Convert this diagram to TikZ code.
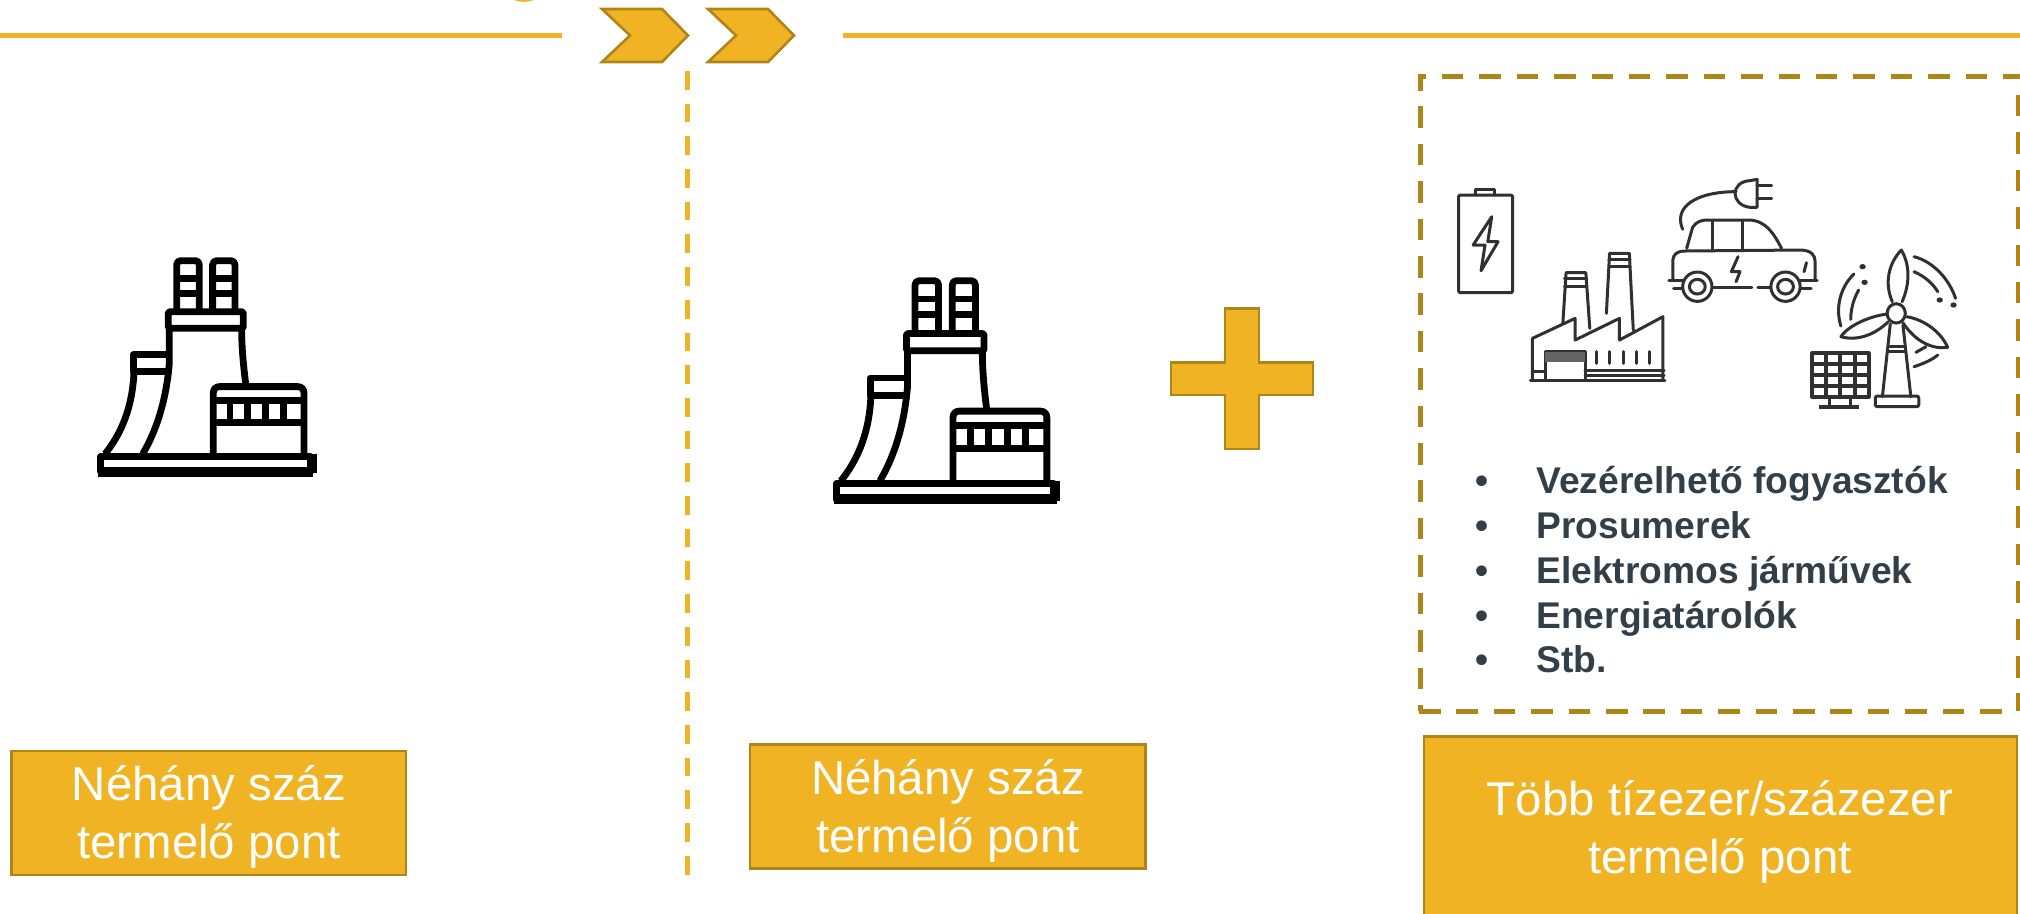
\documentclass[tikz,border=0pt]{standalone}
\usepackage{fontspec}
\setmainfont{Liberation Sans}
\definecolor{gold}{HTML}{F0B323}
\definecolor{darkgold}{HTML}{B08518}
\definecolor{slatetext}{HTML}{333F48}
\definecolor{iconink}{HTML}{303030}
\tikzset{
  rulegold/.style={draw=gold,line width=2.5pt},
  chev/.style={fill=gold,draw=darkgold,line width=1.3pt,miter limit=10},
  prodbox/.style={fill=gold,draw=darkgold,line width=1.2pt},
  prodtext/.style={text=white,font=\fontsize{23.7}{28.8}\selectfont,align=center,inner sep=0pt},
  listtext/.style={text=slatetext,font=\bfseries\fontsize{18.6}{22}\selectfont,anchor=base west,inner sep=0pt},
  listbullet/.style={text=slatetext,font=\bfseries\fontsize{18.6}{22}\selectfont,anchor=base,inner sep=0pt},
  dashh/.style={draw=darkgold,line width=2.5pt},
  plantline/.style={draw=black,line width=3.4pt,line join=round},
  iconline/.style={draw=iconink,line width=1.5pt,line cap=round,line join=round},
}
% power plant icon, drawn in a local 840x780 grid
\newcommand{\planticon}[3]{%
\begin{scope}[shift={(#1,#2)},x=#3*0.5pt,y=-#3*0.5pt]
  \draw[plantline,rounded corners=2pt] (350,240)--(350,92)--(418,92)--(418,240);
  \draw[plantline,rounded corners=2pt] (458,240)--(458,92)--(525,92)--(525,240);
  \draw[plantline] (350,145)--(418,145) (350,190)--(418,190) (458,145)--(525,145) (458,190)--(525,190);
  \draw[plantline,rounded corners=1pt] (325,245) rectangle (550,295);
  \draw[plantline] (328,295)--(328,400) .. controls (318,520) and (285,610) .. (248,672);
  \draw[plantline] (545,295) .. controls (545,360) and (552,420) .. (558,468);
  \draw[plantline] (328,374)--(220,374)--(220,425)--(328,425);
  \draw[plantline] (222,425) .. controls (218,530) and (185,610) .. (135,672);
  \draw[plantline,rounded corners=3pt] (460,680)--(460,470)--(732,470)--(732,680);
  \draw[plantline] (460,512)--(732,512) (460,578)--(732,578);
  \draw[plantline] (510,512)--(510,578) (563,512)--(563,578) (617,512)--(617,578) (670,512)--(670,578);
  \draw[plantline] (122,680) rectangle (752,725);
  \fill[black] (115,710) rectangle (760,740);
  \fill[black] (748,672) rectangle (770,730);
\end{scope}}
\begin{document}
\begin{tikzpicture}[x=0.5pt,y=-0.5pt]
\useasboundingbox (0,0) rectangle (2020,914);
% top rule
\draw[rulegold] (0,35.5)--(562,35.5);
\draw[rulegold] (843,35.5)--(2020,35.5);
\fill[gold] (514,0) .. controls (520,2.5) and (528,2.5) .. (534,0) -- cycle;
% chevrons
\draw[chev] (602,9)--(662,9)--(688,35.5)--(662,62)--(602,62)--(630,35.5)--cycle;
\draw[chev] (708,9)--(768,9)--(794,35.5)--(768,62)--(708,62)--(736,35.5)--cycle;
% vertical separator
\draw[rulegold,dash pattern=on 9.35pt off 7pt] (687.3,71)--(687.3,875);
% dashed frame
\draw[dashh,dash pattern=on 10.75pt off 7.95pt,dash phase=7.75pt] (1420,77)--(2020,77);
\draw[dashh,dash pattern=on 10.75pt off 7.95pt,dash phase=2.7pt] (1420,74.5)--(1420,711);
\draw[dashh,dash pattern=on 10.75pt off 7.95pt] (1419,711)--(2003,711);
\draw[dashh,dash pattern=on 10.75pt off 7.95pt] (2018.5,95)--(2018.5,711);
% plant icons
\planticon{60}{230}{0.3333}
\planticon{794.3}{249}{0.345}
% plus
\draw[prodbox] (1225,308.5)--(1259,308.5)--(1259,362.7)--(1313,362.7)--(1313,395)--(1259,395)--(1259,449)--(1225,449)--(1225,395)--(1171,395)--(1171,362.7)--(1225,362.7)--cycle;
% boxes
\draw[prodbox] (11.5,751) rectangle (406,875);
\node[prodtext] (boxa) at (209,817) {Néhány száz\\termelő pont};
\draw[prodbox] (750,744.5) rectangle (1145.5,868.5);
\node[prodtext] (boxb) at (948,811) {Néhány száz\\termelő pont};
\draw[prodbox] (1424,920)--(1424,736.5)--(2017,736.5)--(2017,920);
\node[prodtext] (boxc) at (1720,832) {Több tízezer/százezer\\termelő pont};
% list
\node[listbullet] (b1) at (1481.6,493.3) {•};
\node[listbullet] (b2) at (1481.6,538.3) {•};
\node[listbullet] (b3) at (1481.6,583.3) {•};
\node[listbullet] (b4) at (1481.6,628.3) {•};
\node[listbullet] (b5) at (1481.6,672.7) {•};
\node[listtext] (t1) at (1536,493.3) {Vezérelhető fogyasztók};
\node[listtext] (t2) at (1536,538.3) {Prosumerek};
\node[listtext] (t3) at (1536,583.3) {Elektromos járművek};
\node[listtext] (t4) at (1536,628.3) {Energiatárolók};
\node[listtext] (t5) at (1536,672.7) {Stb.};
% device icons in zoomed grid
\begin{scope}[shift={(1400,150)},x=0.1977pt,y=-0.1667pt]
  % battery
  \draw[iconline,rounded corners=1pt] (148,135) rectangle (285,428);
  \draw[iconline] (192,135)--(192,118)--(240,118)--(240,135);
  \draw[iconline] (232,200)--(185,285)--(215,285)--(205,362)--(248,275)--(222,275)--cycle;
  % factory
  \draw[iconline] (330,690)--(670,690);
  \draw[iconline] (335,690)--(335,565)--(443,505)--(443,570)--(555,505)--(555,570)--(665,500)--(665,690);
  \draw[iconline] (412,518)--(420,368)--(470,368)--(480,535);
  \draw[iconline] (416,385)--(472,385) (416,408)--(472,408);
  \draw[iconline] (522,490)--(530,310)--(580,310)--(590,540);
  \draw[iconline] (528,328)--(582,328) (528,350)--(582,350);
  \draw[iconline] (367,690)--(367,605)--(468,605)--(468,690);
  \fill[iconink!75] (367,605) rectangle (468,636);
  \draw[iconline] (498,605)--(498,640) (530,605)--(530,640) (565,605)--(565,640) (598,605)--(598,640) (632,605)--(632,640);
  \draw[iconline] (335,665)--(367,665) (468,660)--(668,660) (468,675)--(668,675);
  % car
  \draw[iconline] (690,390)--(690,330) .. controls (692,312) and (700,305) .. (718,303)--(1015,300) .. controls (1040,302) and (1050,315) .. (1050,335)--(1050,390);
  \draw[iconline] (725,295)--(740,232) .. controls (750,215) and (760,210) .. (780,210)--(880,210) .. controls (925,210) and (945,250) .. (965,295);
  \draw[iconline] (790,213)--(790,298) (865,213)--(865,298);
  \draw[iconline] (680,392)--(715,392) (692,415)--(718,415) (790,412)--(890,412) (905,412)--(940,412) (1010,392)--(1055,392) (1012,415)--(1040,415);
  \draw[iconline,fill=white] (752,410) ellipse [x radius=37,y radius=44];
  \draw[iconline] (752,410) ellipse [x radius=20,y radius=22];
  \draw[iconline,fill=white] (975,410) ellipse [x radius=37,y radius=44];
  \draw[iconline] (975,410) ellipse [x radius=20,y radius=22];
  \draw[iconline] (855,320)--(838,365)--(860,365)--(850,395);
  \draw[iconline] (1028,338)--(1022,365);
  \draw[iconline] (715,238) .. controls (690,170) and (750,125) .. (850,125);
  \draw[iconline] (885,92) .. controls (835,95) and (835,165) .. (885,172)--(903,172)--(903,88)--(885,92);
  \draw[iconline] (903,105)--(940,105) (903,145)--(940,145);
  % turbine
  \draw[iconline] (1255,490) ellipse [x radius=23,y radius=29];
  \draw[iconline] (1245,455) .. controls (1225,400) and (1235,340) .. (1268,300) .. controls (1290,345) and (1290,400) .. (1270,455);
  \draw[iconline] (1232,492) .. controls (1190,498) and (1135,525) .. (1115,560) .. controls (1160,575) and (1205,550) .. (1235,515);
  \draw[iconline] (1282,500) .. controls (1330,510) and (1370,550) .. (1385,592) .. controls (1335,600) and (1295,560) .. (1272,518);
  \draw[iconline] (1240,522)--(1220,740) (1272,525)--(1292,740);
  \draw[iconline] (1238,590)--(1274,590) (1236,605)--(1276,605);
  \draw[iconline,rounded corners=1pt] (1202,738) rectangle (1312,770);
  \draw[iconline] (1300,320) .. controls (1350,335) and (1390,390) .. (1405,445);
  \draw[iconline] (1300,365) .. controls (1330,380) and (1350,405) .. (1360,425);
  \fill[iconink] (1365,450) circle [radius=8] (1400,465) circle [radius=8];
  \draw[iconline] (1115,528) .. controls (1100,470) and (1115,410) .. (1148,372);
  \draw[iconline] (1140,508) .. controls (1140,475) and (1148,445) .. (1160,420);
  \fill[iconink] (1170,350) circle [radius=8] (1175,397) circle [radius=8];
  \draw[iconline] (1300,650) .. controls (1325,640) and (1345,630) .. (1360,615);
  \draw[iconline] (1305,607)--(1330,590);
  % solar panel
  \draw[iconink,line width=2pt,line join=round] (1042,610) rectangle (1185,740);
  \draw[iconink,line width=2pt] (1078,610)--(1078,740) (1113,610)--(1113,740) (1150,610)--(1150,740) (1042,642)--(1185,642) (1042,675)--(1185,675) (1042,708)--(1185,708);
  \draw[iconline] (1085,740)--(1085,768) (1140,740)--(1140,768);
  \draw[iconink,line width=2pt] (1060,770)--(1162,770);
\end{scope}
\end{tikzpicture}
\end{document}
